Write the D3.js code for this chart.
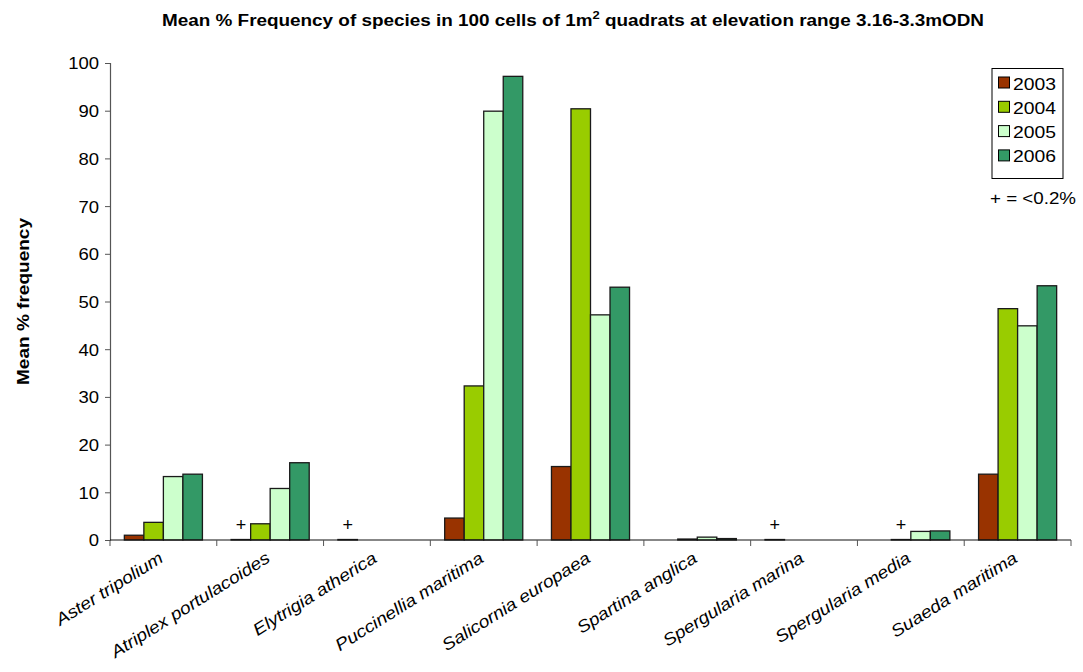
<!DOCTYPE html>
<html><head><meta charset="utf-8">
<script src="https://cdn.jsdelivr.net/npm/d3@7"></script>
<style>body{margin:0;background:#fff;}svg{display:block;font-family:"Liberation Sans",Arial,sans-serif;}</style>
</head><body><svg id="c" width="1083" height="672"></svg>
<script>
const categories = ["Aster tripolium","Atriplex portulacoides","Elytrigia atherica","Puccinellia maritima","Salicornia europaea","Spartina anglica","Spergularia marina","Spergularia media","Suaeda maritima"];
const years = ["2003","2004","2005","2006"];
const v2003 = [1.0, 0.1, 0.1, 4.6, 15.4, 0, 0.1, 0, 13.8];
const v2004 = [3.7, 3.4, 0, 32.3, 90.4, 0.2, 0, 0.1, 48.5];
const v2005 = [13.3, 10.8, 0, 89.9, 47.2, 0.6, 0, 1.8, 44.9];
const v2006 = [13.8, 16.2, 0, 97.2, 53.0, 0.3, 0, 1.9, 53.3];
const traceMarks = [["Atriplex portulacoides","2003"],["Elytrigia atherica","2003"],["Spergularia marina","2003"],["Spergularia media","2004"]];
const yTicks = [0,10,20,30,40,50,60,70,80,90,100];
const colors = ["#993300","#99CC00","#CCFFCC","#339966"];

const series = [v2003,v2004,v2005,v2006];
const svg = d3.select("#c");
const L=110, R=1071, T=63, B=540;
const x0 = d3.scaleBand().domain(categories).range([L,R]).padding(0);
const x1 = d3.scaleBand().domain(years).range([0,x0.bandwidth()]).paddingInner(0).paddingOuter(0.735);
const y = d3.scaleLinear().domain([0,100]).range([B,T]);
const color = d3.scaleOrdinal().domain(years).range(colors);

function stretch(sel, f){
  sel.each(function(){
    const w = this.getComputedTextLength();
    d3.select(this).attr("textLength", w*f).attr("lengthAdjust","spacingAndGlyphs");
  });
}

// title
const t = svg.append("text").attr("x",573).attr("y",26).attr("text-anchor","middle")
  .attr("font-size",16).attr("font-weight","bold").attr("fill","#000");
t.append("tspan").text("Mean % Frequency of species in 100 cells of 1m");
t.append("tspan").attr("font-size",11).attr("dy",-7).text("2");
t.append("tspan").attr("dy",7).text(" quadrats at elevation range 3.16-3.3mODN");
t.attr("textLength",822).attr("lengthAdjust","spacingAndGlyphs");

// y axis
const ya = svg.append("g").attr("transform",`translate(${L},0)`)
  .call(d3.axisLeft(y).tickValues(yTicks).tickSize(5).tickPadding(6));
ya.select(".domain").attr("stroke","#555").attr("stroke-width",1.2);
ya.selectAll(".tick line").attr("stroke","#555");
ya.selectAll(".tick text").attr("font-size",16.5).attr("fill","#000").attr("font-family","Liberation Sans, Arial, sans-serif")
  .attr("dy","0.36em");
stretch(ya.selectAll(".tick text"), 1.12);

const yl = svg.append("text").attr("transform",`translate(29,${(T+B)/2}) rotate(-90)`).attr("text-anchor","middle")
  .attr("font-size",16).attr("font-weight","bold").text("Mean % frequency");
yl.attr("textLength",167).attr("lengthAdjust","spacingAndGlyphs");

// bars
const data = [];
categories.forEach((c,i)=>years.forEach((yr,j)=>data.push({c,yr,v:series[j][i]})));
svg.append("g").selectAll("rect").data(data.filter(d=>d.v>0)).join("rect")
  .attr("x",d=>x0(d.c)+x1(d.yr)).attr("width",x1.bandwidth())
  .attr("y",d=>y(d.v)).attr("height",d=>B-y(d.v))
  .attr("fill",d=>color(d.yr)).attr("stroke","#1a1a1a").attr("stroke-width",1.3);

// trace markers
svg.append("g").selectAll("text").data(traceMarks).join("text")
  .attr("x",d=>x0(d[0])+x1(d[1])+x1.bandwidth()/2).attr("y",B-9)
  .attr("text-anchor","middle").attr("font-size",18).text("+");

// x axis
const xa = svg.append("g");
xa.append("line").attr("x1",L).attr("x2",R).attr("y1",B).attr("y2",B).attr("stroke","#111").attr("stroke-width",1.2);
const bounds = categories.map(c=>x0(c)).concat([R]);
xa.selectAll("line.tk").data(bounds).join("line").attr("class","tk")
  .attr("x1",d=>d).attr("x2",d=>d).attr("y1",B).attr("y2",B+6).attr("stroke","#555");
const xl = xa.selectAll("text").data(categories).join("text")
  .attr("transform",d=>`translate(${x0(d)+x0.bandwidth()/2+1},${B+21}) rotate(-32)`)
  .attr("text-anchor","end").attr("font-size",17).attr("font-style","italic").text(d=>d);
stretch(xl, 1.13);

// legend
const lg = svg.append("g");
lg.append("rect").attr("x",992).attr("y",68.5).attr("width",71).attr("height",110).attr("fill","#fff").attr("stroke","#000");
years.forEach((yr,i)=>{
  const cy = 83 + i*24.3;
  lg.append("rect").attr("x",998.5).attr("y",cy-6).attr("width",11).attr("height",11).attr("fill",color(yr)).attr("stroke","#000");
  lg.append("text").attr("x",1013).attr("y",cy+6.5).attr("font-size",17).text(yr)
    .attr("textLength",43).attr("lengthAdjust","spacingAndGlyphs");
});
svg.append("text").attr("x",990).attr("y",204).attr("font-size",16).text("+ = <0.2%")
  .attr("textLength",86).attr("lengthAdjust","spacingAndGlyphs");
</script></body></html>
